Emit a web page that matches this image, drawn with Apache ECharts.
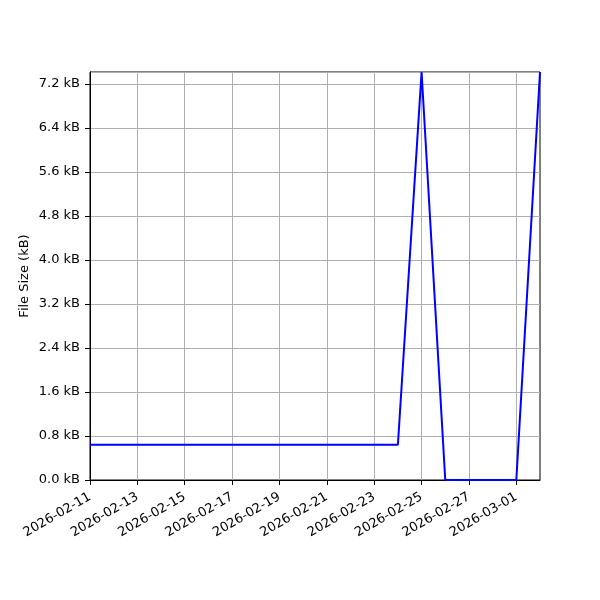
<!DOCTYPE html>
<html>
<head>
<meta charset="utf-8">
<script src="https://cdn.jsdelivr.net/npm/echarts@6/dist/echarts.min.js"></script>
<style>
    html, body { margin: 0; padding: 0; background: #fff; }
    #chart { width: 600px; height: 600px; }
</style>
</head>
<body>
<div id="chart"></div>
<script>
// daily file size snapshots
const dates = [
    "2026-02-11", "2026-02-12", "2026-02-13", "2026-02-14", "2026-02-15",
    "2026-02-16", "2026-02-17", "2026-02-18", "2026-02-19", "2026-02-20",
    "2026-02-21", "2026-02-22", "2026-02-23", "2026-02-24", "2026-02-25",
    "2026-02-26", "2026-02-27", "2026-02-28", "2026-03-01", "2026-03-02"
];
const sizesKB = [
    0.64, 0.64, 0.64, 0.64, 0.64, 0.64, 0.64, 0.64, 0.64, 0.64,
    0.64, 0.64, 0.64, 0.64, 7.42, 0, 0, 0, 0, 7.42
];
const yMax = 7.42;
const yStep = 0.8;

const font = "DejaVu Sans";
const chart = echarts.init(document.getElementById("chart"));
chart.setOption({
    animation: false,
    grid: {
        left: 90,
        right: 60,
        top: 72,
        bottom: 120,
        show: true,
        borderColor: "#000",
        borderWidth: 1
    },
    xAxis: {
        type: "category",
        data: dates,
        boundaryGap: false,
        axisLine: { lineStyle: { color: "#000", width: 1 } },
        axisTick: { interval: 1, length: 5, lineStyle: { color: "#000" } },
        splitLine: { show: true, interval: 1, lineStyle: { color: "#b0b0b0", width: 1 } },
        axisLabel: {
            interval: 1,
            rotate: 30,
            margin: 16,
            color: "#000",
            fontFamily: font,
            fontSize: 13
        }
    },
    yAxis: {
        type: "value",
        min: 0,
        max: yMax,
        interval: yStep,
        name: "File Size (kB)",
        nameLocation: "middle",
        nameGap: 59,
        nameMoveOverlap: false,
        nameTextStyle: { color: "#000", fontFamily: font, fontSize: 13 },
        axisLine: { show: true, lineStyle: { color: "#000", width: 1 } },
        axisTick: { show: true, length: 5, lineStyle: { color: "#000" } },
        splitLine: { show: true, lineStyle: { color: "#b0b0b0", width: 1 } },
        axisLabel: {
            showMaxLabel: false,
            margin: 10,
            color: "#000",
            fontFamily: font,
            fontSize: 13,
            formatter: v => v.toFixed(1) + " kB"
        }
    },
    series: [
        {
            type: "line",
            data: sizesKB,
            showSymbol: false,
            lineStyle: { color: "#0000ff", width: 2 },
            itemStyle: { color: "#0000ff" }
        }
    ]
});
</script>
</body>
</html>
